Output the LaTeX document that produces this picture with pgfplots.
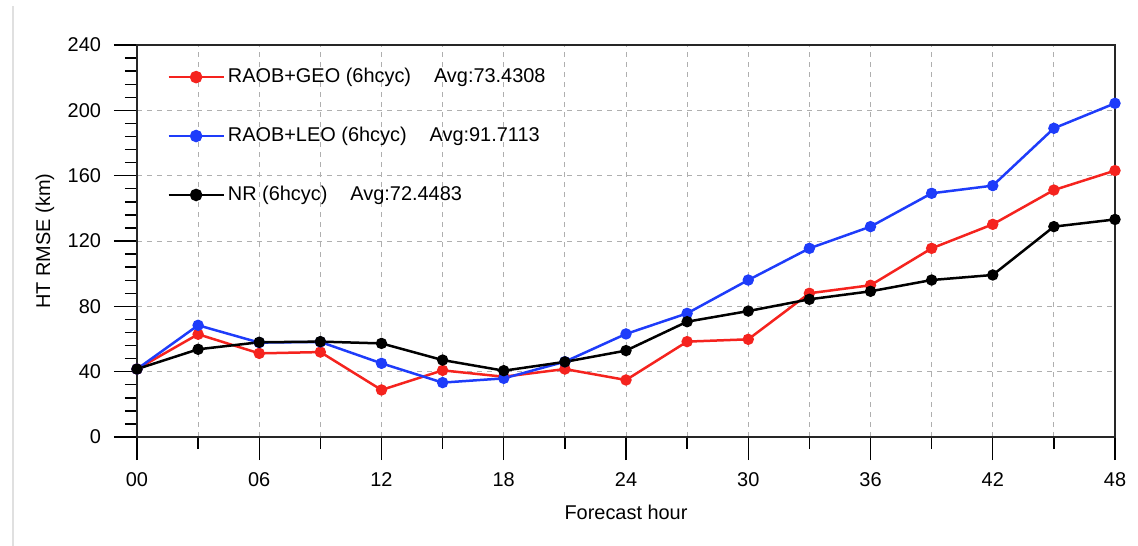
\documentclass[border=0pt]{standalone}
\usepackage{pgfplots}
\pgfplotsset{compat=1.18}
\usepackage{fontspec}
\setmainfont{Liberation Sans}
\definecolor{cred}{RGB}{245,35,30}
\definecolor{cblue}{RGB}{30,60,250}
\definecolor{gridgray}{RGB}{175,175,175}
\begin{document}
\begin{tikzpicture}
\useasboundingbox (-68.5bp,-54.5bp) rectangle (500.5bp,218.5bp);
\draw[line width=1bp, black!12] (-62bp,215.5bp) -- (-62bp,-54.5bp);
\begin{axis}[
  at={(0,0)}, anchor=south west,
  scale only axis, width=489bp, height=196bp,
  xmin=0, xmax=48, ymin=0, ymax=240,
  xtick={0,6,...,48},
  xticklabels={00,06,12,18,24,30,36,42,48},
  minor xtick={3,9,...,45},
  ytick={0,40,...,240},
  minor y tick num=4,
  tick pos=left, tick align=outside,
  major tick length=11.5bp, minor tick length=6bp,
  every tick/.style={black, line width=0.7bp},
  axis line style={line width=0.8bp, black!85},
  xmajorgrids, xminorgrids, ymajorgrids,
  major grid style={gridgray, dash pattern=on 2.5bp off 2.5bp, line width=0.5bp},
  minor grid style={gridgray, dash pattern=on 2.5bp off 2.5bp, line width=0.5bp},
  /pgf/number format/assume math mode=true,
  tick label style={font=\fontsize{10}{12}\selectfont},
  yticklabel style={xshift=-3bp},
  xticklabel style={yshift=-3bp},
  label style={font=\fontsize{10}{12}\selectfont},
  xlabel={Forecast hour},
  ylabel={HT RMSE (km)},
  xlabel style={at={(axis description cs:0.5,0)}, anchor=center, yshift=-37.5bp},
  ylabel style={at={(axis description cs:0,0.5)}, anchor=center, yshift=46bp},
  legend style={at={(axis description cs:0,1)}, anchor=north west, xshift=12bp, yshift=-8bp,
    draw=none, fill=none, row sep=17.75bp, font=\fontsize{10}{12}\selectfont,
    nodes={inner sep=1.5bp}},
  legend cell align=left,
  legend image code/.code={\draw[#1, mark repeat=2, mark phase=2, mark size=2.5bp] plot coordinates {(0bp,0bp) (13.75bp,0bp) (27.5bp,0bp)};},
  every axis plot/.append style={line width=1.25bp, mark=*, mark size=2.2bp},
]
\addplot[cred, mark options={fill=cred}] coordinates {
(0,41.6) (3,62.9) (6,51.2) (9,52.0) (12,28.8) (15,40.8) (18,36.9) (21,41.6) (24,34.9)
(27,58.4) (30,59.8) (33,88.0) (36,92.9) (39,115.5) (42,130.2) (45,151.2) (48,163.1)};
\addlegendentry{RAOB+GEO (6hcyc)\hspace{1.15em}Avg:73.4308}
\addplot[cblue, mark options={fill=cblue}] coordinates {
(0,41.6) (3,68.4) (6,57.8) (9,58.2) (12,45.1) (15,33.3) (18,35.9) (21,46.1) (24,63.1)
(27,75.7) (30,96.1) (33,115.5) (36,128.8) (39,149.2) (42,153.9) (45,189.0) (48,204.3)};
\addlegendentry{RAOB+LEO (6hcyc)\hspace{1.15em}Avg:91.7113}
\addplot[black, mark options={fill=black}] coordinates {
(0,41.6) (3,53.7) (6,58.0) (9,58.4) (12,57.3) (15,47.1) (18,40.6) (21,46.0) (24,52.9)
(27,70.6) (30,77.1) (33,84.3) (36,89.2) (39,96.1) (42,99.2) (45,128.8) (48,133.2)};
\addlegendentry{NR (6hcyc)\hspace{1.15em}Avg:72.4483}
\end{axis}
\end{tikzpicture}
\end{document}
